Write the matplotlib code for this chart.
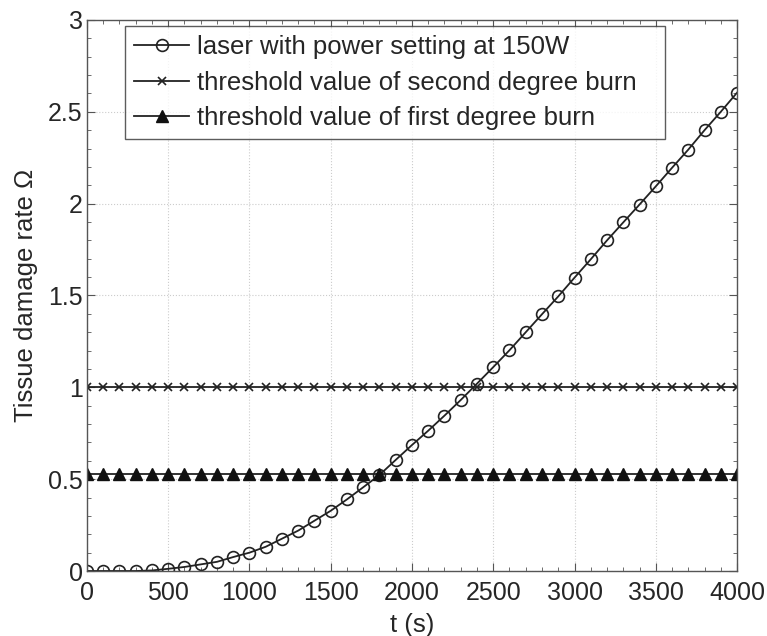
import numpy as np
import matplotlib
matplotlib.use('Agg')
import matplotlib.pyplot as plt
from matplotlib.ticker import MultipleLocator

plt.rcParams['font.family'] = ['Liberation Sans', 'DejaVu Sans']

# time (s), sampled every 100 s
t = list(range(0, 4001, 100))

# damage rate for the laser at 150W
omega_laser = [0.0, 0.0, 0.0, 0.0, 0.003, 0.012, 0.022, 0.036, 0.05, 0.076,
               0.10, 0.132, 0.176, 0.22, 0.274, 0.328, 0.39, 0.456, 0.523, 0.605,
               0.686, 0.764, 0.846, 0.931, 1.02, 1.11, 1.202, 1.30, 1.398, 1.495,
               1.597, 1.697, 1.80, 1.898, 1.995, 2.094, 2.195, 2.294, 2.40, 2.50,
               2.604]

second_degree = [1.0] * len(t)
first_degree = [0.53] * len(t)

labels = ['laser with power setting at 150W',
          'threshold value of second degree burn',
          'threshold value of first degree burn']

txt = '#262626'
fig = plt.figure(figsize=(7.67, 6.36), dpi=100)
ax = fig.add_axes([0.1134, 0.1022, 0.8475, 0.8664])

ax.plot(t, omega_laser, color='#222222', lw=1.3, marker='o', ms=8.5,
        mfc='none', mec='#222222', mew=1.2, label=labels[0])
ax.plot(t, second_degree, color='#222222', lw=1.3, marker='x', ms=5.5,
        mew=1.2, label=labels[1])
ax.plot(t, first_degree, color='#222222', lw=1.3, marker='^', ms=8,
        mfc='#111111', mec='#111111', label=labels[2])

ax.set_xlim(0, 4000)
ax.set_ylim(0, 3)
ax.xaxis.set_major_locator(MultipleLocator(500))
ax.xaxis.set_minor_locator(MultipleLocator(100))
ax.yaxis.set_major_locator(MultipleLocator(0.5))
ax.yaxis.set_minor_locator(MultipleLocator(0.1))
ax.set_yticks([0, 0.5, 1, 1.5, 2, 2.5, 3])
ax.set_yticklabels(['0', '0.5', '1', '1.5', '2', '2.5', '3'])

ax.tick_params(which='both', direction='in', top=True, right=True,
               colors='#555555', labelcolor=txt, labelsize=18)
ax.tick_params(axis='x', pad=7)
ax.tick_params(axis='y', pad=3)
ax.tick_params(which='major', length=6)
ax.tick_params(which='minor', length=3)
for s in ax.spines.values():
    s.set_color('#555555')
    s.set_linewidth(1.0)

ax.grid(True, which='major', ls=':', color='#cccccc', lw=0.8)
ax.set_axisbelow(True)

ax.set_xlabel('t (s)', fontsize=18.5, color=txt, labelpad=6)
ax.set_ylabel('Tissue damage rate \u03a9', fontsize=18.5, color=txt, labelpad=7)

# MATLAB-like legend box, stretched to the reference width
leg = ax.legend(loc='upper left', bbox_to_anchor=(0.0585, 0.5, 0.8308, 0.489),
                mode='expand', fontsize=18.5,
                frameon=True, fancybox=False, edgecolor='#333333',
                handlelength=2.15, borderpad=0.35, labelspacing=0.45,
                handletextpad=0.3, borderaxespad=0)
leg.get_frame().set_linewidth(1.0)
for text in leg.get_texts():
    text.set_color(txt)

fig.savefig('out.png', dpi=100)
